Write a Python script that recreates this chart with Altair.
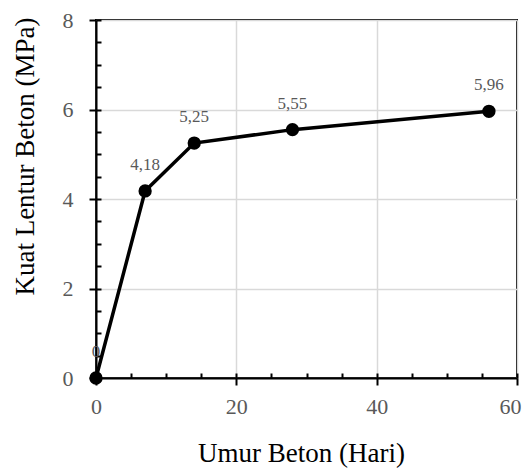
import altair as alt
import pandas as pd

umur = [0, 7, 14, 28, 56]
kuat = [0, 4.18, 5.25, 5.55, 5.96]
label = ["0", "4,18", "5,25", "5,55", "5,96"]
x_ticks = [0, 20, 40, 60]
y_ticks = [0, 2, 4, 6, 8]
x_minor = [0, 5, 10, 15, 20, 25, 30, 35, 40, 45, 50, 55, 60]
y_minor = [0, 0.5, 1, 1.5, 2, 2.5, 3, 3.5, 4, 4.5, 5, 5.5, 6, 6.5, 7, 7.5, 8]

df = pd.DataFrame({"umur": umur, "kuat": kuat, "label": label})

FONT = "Liberation Serif"
xs = alt.Scale(domain=[0, 60], nice=False)
ys = alt.Scale(domain=[0, 8], nice=False)

main_x = alt.Axis(
    values=x_ticks, title="Umur Beton (Hari)", orient="bottom",
    grid=True, gridColor="#d9d9d9", gridWidth=1.5,
    domainColor="black", domainWidth=2,
    tickColor="black", tickWidth=2, tickSize=7,
    labelFont=FONT, labelFontSize=22, labelColor="#595959",
    labelPadding=28, labelBaseline="alphabetic", labelFlush=False,
    labelOffset=alt.condition("datum.value == 60", alt.value(-7), alt.value(0)),
    titleFont=FONT, titleFontSize=27, titleColor="black", titleFontWeight="normal",
    titleX=205, titleY=83, titleBaseline="alphabetic",
)
main_y = alt.Axis(
    values=y_ticks, title="Kuat Lentur Beton (MPa)", orient="left",
    grid=True, gridColor="#d9d9d9", gridWidth=1.5,
    domainColor="black", domainWidth=2,
    tickColor="black", tickWidth=2, tickSize=7,
    labelFont=FONT, labelFontSize=22, labelColor="#595959",
    labelPadding=16, labelBaseline="middle", labelFlush=False,
    titleFont=FONT, titleFontSize=27, titleColor="black", titleFontWeight="normal",
    titleX=-63, titleY=136, titleBaseline="alphabetic", titleAngle=270,
)
minor_x = alt.Axis(
    values=x_minor, orient="bottom", offset=-5, tickSize=5, tickWidth=2,
    tickColor="black", labels=False, domain=False, grid=False, title=None,
)
minor_y = alt.Axis(
    values=y_minor, orient="left", offset=-5, tickSize=5, tickWidth=2,
    tickColor="black", labels=False, domain=False, grid=False, title=None,
)

base = alt.Chart(df)

text = base.mark_text(
    font=FONT, fontSize=17, color="#595959", baseline="alphabetic", dy=-21
).encode(
    x=alt.X("umur:Q", scale=xs, axis=None),
    y=alt.Y("kuat:Q", scale=ys, axis=None),
    text="label:N",
)
line = base.mark_line(color="black", strokeWidth=3.5).encode(
    x=alt.X("umur:Q", scale=xs, axis=None),
    y=alt.Y("kuat:Q", scale=ys, axis=None),
)
pts = base.mark_circle(size=177, color="black", opacity=1).encode(
    x=alt.X("umur:Q", scale=xs, axis=main_x),
    y=alt.Y("kuat:Q", scale=ys, axis=main_y),
)
minor = base.mark_point(opacity=0).encode(
    x=alt.X("umur:Q", scale=xs, axis=minor_x),
    y=alt.Y("kuat:Q", scale=ys, axis=minor_y),
)

chart = alt.layer(text, line, pts, minor).resolve_axis(
    x="independent", y="independent"
).properties(
    width=421, height=358,
    autosize=alt.AutoSizeParams(type="none"),
    padding={"left": 88, "top": 12, "right": 7, "bottom": 90},
    background="white",
).configure(
    font=FONT
).configure_axis(
    labelFont=FONT, titleFont=FONT
).configure_text(
    font=FONT
).configure_view(stroke="black", strokeWidth=2)

chart.save("out.html", embed_options={"renderer": "svg", "actions": False})
